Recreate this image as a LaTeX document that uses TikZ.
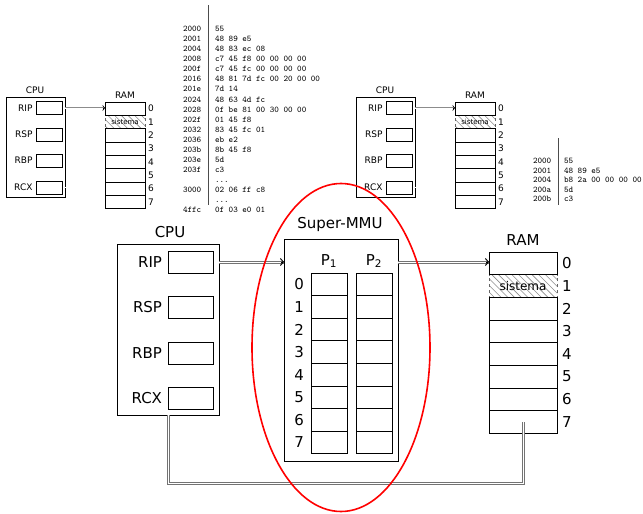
\documentclass[tikz,border=0pt]{standalone}
\usepackage{fontspec}
\setmainfont{DejaVu Sans}
\usetikzlibrary{positioning,arrows.meta,shapes.geometric}
\newcommand{\mainsz}{\fontsize{15}{18}\selectfont}
\newcommand{\midsz}{\fontsize{12}{14}\selectfont}
\newcommand{\smallsz}{\fontsize{9}{11}\selectfont}
\newcommand{\tinysz}{\fontsize{7}{8}\selectfont}
\newcommand{\hexsz}{\fontsize{8.7}{10}\selectfont\ttfamily}
\newcommand{\skipped}{...}

\begin{document}
\begin{tikzpicture}[
  x=1pt,
  y=-1pt,
  every node/.style={inner sep=1pt, outer sep=0pt},
  sreg/.style={draw, line width=0.6pt, minimum width=26pt, minimum height=13pt},
  scell/.style={draw, line width=0.6pt, minimum width=40pt, minimum height=13.3pt},
  breg/.style={draw, line width=0.8pt, minimum width=45pt, minimum height=22pt},
  bcell/.style={draw, line width=0.8pt, minimum width=68pt, minimum height=22.65pt},
  mcell/.style={draw, line width=0.8pt, minimum width=36pt, minimum height=22.6pt},
  hatch/.style={draw=black!60, dashed,
    path picture={
      \foreach \d in {-24,-17.3,...,70}
        \draw[black!45, line width=0.6pt, solid]
          ([xshift=\d pt]path picture bounding box.north west) -- ++(26,26);
    }},
  slink/.style={draw=black!45, line width=0.7pt, double=white, double distance=0.5pt},
  blink/.style={draw=black!55, line width=1pt, double=white, double distance=1pt},
  tipend/.style={black, line width=0.9pt, -{Straight Barb[length=3pt, width=7pt]}},
  hex/.style={font=\hexsz, inner sep=0pt, anchor=base west},
  bar/.style={black!70, line width=0.8pt}
]
  \useasboundingbox (0,0) rectangle (643,514);

  % ---- small CPU/RAM pictures (left one and its copy on the right) ----
  \foreach \sh/\sfx in {0/a,350/b}{
    \begin{scope}[xshift=\sh pt]
      \node[font=\smallsz] (cputitle\sfx) at (35,90) {CPU};
      \node[draw, line width=0.6pt, minimum width=59pt, minimum height=100pt] (cpu\sfx) at (35.5,147) {};
      \foreach \r/\txt/\yy in {rip/RIP/108,rsp/RSP/134.5,rbp/RBP/160.5,rcx/RCX/187.5}{
        \node[sreg] (\r\sfx) at (49,\yy) {};
        \node[font=\smallsz, left=2.5pt of \r\sfx] (lbl\r\sfx) {\txt};
      }
      \node[font=\smallsz] (ramtitle\sfx) at (125,95) {RAM};
      \node[scell, hatch, font=\tinysz] (ram\sfx1) at (125,{102+13.3*1.5}) {sistema};
      \foreach \i in {0,2,3,4,5,6,7}
        \node[scell] (ram\sfx\i) at (125,{102+13.3*(\i+0.5)}) {};
      \foreach \i in {0,...,7}
        \node[font=\smallsz, right=2pt of ram\sfx\i] (num\sfx\i) {\i};
      \draw[slink] (cpu\sfx.east |- rip\sfx) -- (ram\sfx0.west |- rip\sfx);
      \draw[tipend, line width=0.6pt, -{Straight Barb[length=2pt, width=5pt]}]
        (ram\sfx0.west |- rip\sfx) ++(-2,0) -- ++(2,0);
      \draw[slink] (cpu\sfx.east |- rcx\sfx) -- (ram\sfx6.west |- rcx\sfx);
    \end{scope}
  }

  % ---- machine code listings ----
  \draw[bar] (208,5) -- (208,205);
  \foreach \adr/\hx [count=\k from 0] in {2000/55, 2001/48 89 e5, 2004/48 83 ec 08,
      2008/c7 45 f8 00 00 00 00, 200f/c7 45 fc 00 00 00 00, 2016/48 81 7d fc 00 20 00 00,
      201e/7d 14, 2024/48 63 4d fc, 2028/0f be 81 00 30 00 00, 202f/01 45 f8,
      2032/83 45 fc 01, 2036/eb e2, 203b/8b 45 f8, 203e/5d, 203f/c3, /\skipped,
      3000/02 06 ff c8, /\skipped, 4ffc/0f 03 e0 01}{
    \node[hex] (adrA\k) at (183,{31.6+10.06*\k}) {\adr};
    \node[hex] (hexA\k) at (215,{31.6+10.06*\k}) {\hx};
  }
  \draw[bar] (558,138) -- (558,205);
  \foreach \adr/\hx [count=\k from 0] in {2000/55, 2001/48 89 e5,
      2004/b8 2a 00 00 00 00, 200a/5d, 200b/c3}{
    \node[hex] (adrB\k) at (533,{163.6+9.5*\k}) {\adr};
    \node[hex] (hexB\k) at (564,{163.6+9.5*\k}) {\hx};
  }

  % ---- big CPU ----
  \node[font=\mainsz] (cputitle) at (170,232) {CPU};
  \node[draw, line width=0.8pt, minimum width=102pt, minimum height=171pt] (cpu) at (168,329.5) {};
  \foreach \r/\txt/\yy in {rip/RIP/262,rsp/RSP/307.5,rbp/RBP/353,rcx/RCX/398}{
    \node[breg] (\r) at (190.5,\yy) {};
    \node[font=\mainsz, left=5pt of \r] (lbl\r) {\txt};
  }

  % ---- Super-MMU with the two page tables ----
  \node[font=\mainsz] (mmutitle) at (340,224) {Super-MMU};
  \node[draw, line width=0.8pt, minimum width=114pt, minimum height=222pt] (mmu) at (341,350) {};
  \node[font=\mainsz] (ptitle1) at (329,261) {P\textsubscript{1}};
  \node[font=\mainsz] (ptitle2) at (374,261) {P\textsubscript{2}};
  \foreach \i in {0,...,7}{
    \node[mcell] (pa\i) at (329,{284.3+22.6*\i}) {};
    \node[mcell] (pb\i) at (374,{284.3+22.6*\i}) {};
    \node[font=\mainsz, left=6pt of pa\i] (mnum\i) {\i};
  }

  % ---- big RAM ----
  \node[font=\mainsz] (ramtitle) at (523,240) {RAM};
  \node[bcell, hatch, font=\midsz] (ram1) at (523,{252+22.65*1.5}) {sistema};
  \foreach \i in {0,2,3,4,5,6,7}
    \node[bcell] (ram\i) at (523,{252+22.65*(\i+0.5)}) {};
  \foreach \i in {0,...,7}
    \node[font=\mainsz, right=4pt of ram\i] (rnum\i) {\i};

  % ---- links ----
  \draw[blink] (cpu.east |- rip) -- (mmu.west |- rip);
  \draw[tipend] (mmu.west |- rip) ++(-3,0) -- ++(3,0);
  \draw[blink] (mmu.east |- rip) -- (ram0.west |- rip);
  \draw[tipend] (ram0.west |- rip) ++(-3,0) -- ++(3,0);
  \draw[blink] (cpu.south) -- ++(0,68) -| (ram7.center);

  % ---- red ellipse round the Super-MMU ----
  \node[draw=red, line width=1.6pt, ellipse, inner sep=0pt,
        minimum width=178pt, minimum height=328pt] (focus) at (341,347.5) {};
\end{tikzpicture}
\end{document}
